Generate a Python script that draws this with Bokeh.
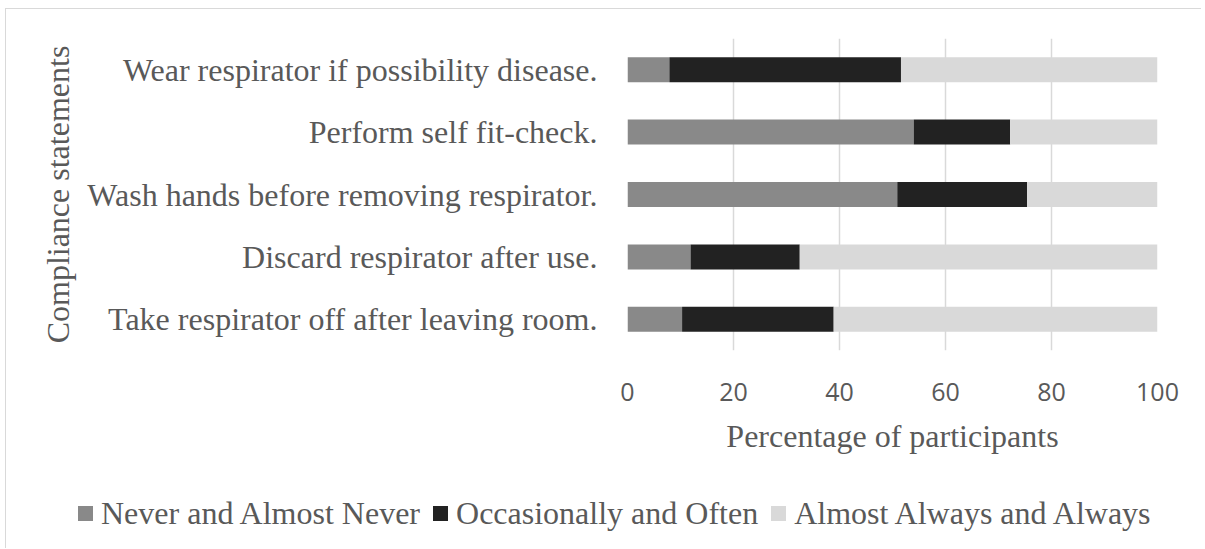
from bokeh.plotting import figure
from bokeh.models import Range1d, FactorRange, SingleIntervalTicker, ColumnDataSource, Div
from bokeh.layouts import column
from bokeh.embed import file_html
from bokeh.resources import INLINE

statements = [
    "Take respirator off after leaving room.",
    "Discard respirator after use.",
    "Wash hands before removing respirator.",
    "Perform self fit-check.",
    "Wear respirator if possibility disease.",
]
never = [10.3, 11.9, 50.9, 54.0, 7.9]
occasionally = [28.6, 20.6, 24.5, 18.2, 43.7]
always = [61.1, 67.5, 24.6, 27.8, 48.4]
series = ["Never and Almost Never", "Occasionally and Often", "Almost Always and Always"]
colors = ["#898989", "#222222", "#d9d9d9"]

src = ColumnDataSource(dict(y=statements, never=never, occ=occasionally, alw=always))

serif = "Liberation Serif"
txt = "#595959"

p = figure(width=1195, height=481, y_range=FactorRange(*statements), x_range=Range1d(0, 100),
           output_backend="svg", toolbar_location=None,
           min_border_left=621, min_border_right=44, min_border_top=29, min_border_bottom=140)
p.outline_line_color = None

rs = p.hbar_stack(["never", "occ", "alw"], y="y", height=0.4, color=colors, source=src, line_width=0)

p.xaxis.ticker = SingleIntervalTicker(interval=20)
p.xaxis.axis_line_color = None
p.xaxis.major_tick_line_color = None
p.xaxis.minor_tick_line_color = None
p.xaxis.major_tick_out = 0
p.xaxis.minor_tick_out = 0
p.xaxis.major_label_standoff = 32
p.xaxis.major_label_text_font = "Open Sans"
p.xaxis.major_label_text_font_size = "25px"
p.xaxis.major_label_text_color = txt
p.xaxis.axis_label = "Percentage of participants"
p.xaxis.axis_label_text_font = serif
p.xaxis.axis_label_text_font_size = "32px"
p.xaxis.axis_label_text_font_style = "normal"
p.xaxis.axis_label_text_color = txt
p.xaxis.axis_label_standoff = 14

p.yaxis.axis_line_color = None
p.yaxis.major_tick_line_color = None
p.yaxis.major_tick_out = 0
p.yaxis.major_label_standoff = 30
p.yaxis.major_label_text_font = serif
p.yaxis.major_label_text_font_size = "32px"
p.yaxis.major_label_text_color = txt
p.yaxis.axis_label = "Compliance statements"
p.yaxis.axis_label_text_font = serif
p.yaxis.axis_label_text_font_size = "32px"
p.yaxis.axis_label_text_font_style = "normal"
p.yaxis.axis_label_text_color = txt
p.yaxis.axis_label_standoff = 8

p.ygrid.grid_line_color = None
p.xgrid.grid_line_color = "#d9d9d9"
p.xgrid.grid_line_width = 1.5

# legend strip below the chart
items_html = "".join(
    f'<span style="display:inline-flex;align-items:center;margin-right:13px;">'
    f'<span style="display:inline-block;width:15px;height:15px;background:{c};margin-right:8px;"></span>'
    f'<span>{s}</span></span>'
    for s, c in zip(series, colors)
)
legend_div = Div(
    text=(f'<div style="display:flex;align-items:center;height:48px;padding-left:72px;'
          f'font-family:\'{serif}\';font-size:32px;color:{txt};white-space:nowrap;">'
          f'{items_html}</div>'),
    width=1195, height=58, margin=0,
)

layout = column(p, legend_div, spacing=0,
                styles={"border-top": "1px solid #d9d9d9", "border-left": "1px solid #d9d9d9",
                        "margin-top": "8px", "margin-left": "5px"})

open("out.html", "w").write(file_html(layout, INLINE))
